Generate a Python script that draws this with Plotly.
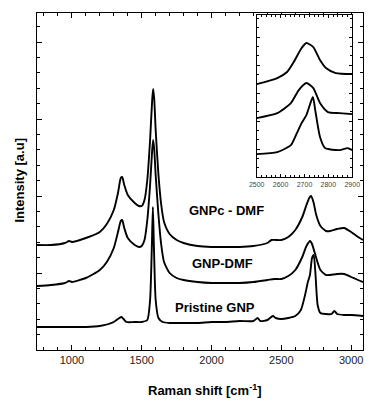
import plotly.graph_objects as go

# ---- main spectra (Raman shift, cm-1 ; intensity, a.u.) ----
gnpc_x = [750, 850, 950, 980, 1000, 1100, 1200, 1250, 1300, 1330, 1350, 1360, 1375, 1400, 1450, 1480,
          1500, 1520, 1540, 1560, 1575, 1582, 1590, 1600, 1620, 1640, 1660, 1700, 1750, 1800, 1900,
          2000, 2100, 2200, 2300, 2400, 2430, 2500, 2550, 2600, 2650, 2680, 2700, 2713, 2730, 2750,
          2780, 2820, 2850, 2900, 2950, 3000, 3050, 3085]
gnpc_y = [105, 105, 107, 109, 108, 112, 118, 126, 140, 157, 172, 173, 165, 155, 147, 144,
          144, 150, 170, 210, 250, 261, 250, 220, 175, 145, 128, 116, 110, 107, 104,
          103, 103, 103, 104, 107, 110, 110, 113, 120, 133, 145, 152, 154, 148, 135,
          124, 119, 119, 121, 122, 118, 113, 110]

gnp_x = [750, 850, 950, 980, 1000, 1100, 1200, 1250, 1300, 1330, 1350, 1360, 1375, 1400, 1450, 1480,
         1500, 1520, 1540, 1560, 1575, 1582, 1590, 1600, 1620, 1640, 1660, 1700, 1750, 1800, 1900,
         2000, 2100, 2200, 2300, 2400, 2450, 2500, 2550, 2600, 2650, 2680, 2706, 2720, 2750, 2780,
         2820, 2850, 2900, 2950, 3000, 3050, 3085]
gnp_y = [64, 65, 67, 69, 68, 72, 80, 88, 102, 118, 129, 130, 122, 112, 105, 103,
         104, 110, 130, 165, 200, 210, 200, 175, 135, 105, 88, 77, 72, 70, 68,
         67, 67, 67, 68, 70, 71, 71, 74, 80, 93, 104, 109, 106, 92, 80,
         75, 75, 76, 76, 73, 70, 68]

pristine_x = [750, 900, 1000, 1100, 1200, 1300, 1340, 1355, 1370, 1390, 1450, 1500, 1540, 1560, 1572,
              1580, 1588, 1600, 1620, 1650, 1700, 1800, 1900, 2000, 2100, 2200, 2300, 2330, 2350,
              2400, 2440, 2460, 2500, 2550, 2600, 2640, 2670, 2690, 2705, 2720, 2732, 2745, 2760,
              2780, 2820, 2860, 2880, 2900, 2950, 3000, 3085]
pristine_y = [23, 23, 23, 23, 24, 28, 32, 33, 31, 28, 28, 28, 30, 50, 100,
              143, 100, 50, 32, 28, 27, 27, 27, 28, 28, 29, 29, 32, 29,
              30, 34, 32, 31, 32, 34, 40, 55, 68, 75, 92, 95, 75, 45,
              37, 36, 36, 39, 36, 35, 35, 34]

# ---- inset (2D band) ----
in_top_x = [2500, 2586, 2627, 2655, 2688, 2708, 2737, 2765, 2790, 2831, 2900]
in_top_y = [93, 99, 105, 115, 129, 134, 130, 117, 109, 104, 103]
in_mid_x = [2500, 2586, 2643, 2676, 2708, 2737, 2765, 2798, 2847, 2900]
in_mid_y = [59, 64, 74, 87, 94, 89, 74, 65, 64, 63]
in_bot_x = [2500, 2586, 2643, 2668, 2688, 2708, 2735, 2745, 2765, 2786, 2847, 2880, 2900]
in_bot_y = [23, 25, 32, 44, 54, 62, 80, 67, 40, 29, 27, 29, 27]

main_ticks = [1000, 1500, 2000, 2500, 3000]
inset_ticks = [2500, 2600, 2700, 2800, 2900]

labels = ["GNPc - DMF", "GNP-DMF", "Pristine GNP"]
label_x = [2107, 2082, 2026]
label_y = [140, 87, 43]

fig = go.Figure()
line = dict(color="black", width=1.9, shape="spline", smoothing=0.6)
for xs, ys in [(gnpc_x, gnpc_y), (gnp_x, gnp_y), (pristine_x, pristine_y)]:
    fig.add_trace(go.Scatter(x=xs, y=ys, mode="lines", line=line, xaxis="x", yaxis="y",
                             showlegend=False, hoverinfo="skip"))
for xs, ys in [(in_top_x, in_top_y), (in_mid_x, in_mid_y), (in_bot_x, in_bot_y)]:
    fig.add_trace(go.Scatter(x=xs, y=ys, mode="lines", line=line, xaxis="x2", yaxis="y2",
                             showlegend=False, hoverinfo="skip"))

font_family = "Liberation Sans, Arial, sans-serif"
axis_common = dict(showline=True, linecolor="black", linewidth=1, mirror="ticks",
                   ticks="inside", tickcolor="black", showgrid=False, zeroline=False)

fig.update_layout(
    width=371, height=401,
    margin=dict(l=37, r=0, t=13, b=51),
    paper_bgcolor="white", plot_bgcolor="white",
    font=dict(family=font_family, color="black"),
    xaxis=dict(range=[750, 3085], tickvals=main_ticks, ticklen=5, tickwidth=1,
               tickfont=dict(size=11, color="#222"),
               minor=dict(dtick=100, tick0=0, ticklen=3, ticks="inside", tickcolor="black"),
               **axis_common),
    yaxis=dict(range=[0, 337], tick0=0, dtick=77, ticklen=5, showticklabels=False,
               minor=dict(dtick=15.4, tick0=0, ticklen=3, ticks="inside", tickcolor="black"),
               **axis_common),
    xaxis2=dict(domain=[0.674, 0.967], anchor="y2", range=[2500, 2900], tickvals=inset_ticks,
                ticklen=3, tickwidth=1, tickfont=dict(size=7, color="#444"),
                minor=dict(dtick=20, tick0=0, ticklen=2, ticks="inside", tickcolor="black"),
                **axis_common),
    yaxis2=dict(domain=[0.513, 0.994], anchor="x2", range=[0, 162], tick0=0, dtick=28,
                ticklen=3, showticklabels=False,
                minor=dict(dtick=9.33, tick0=0, ticklen=2, ticks="inside", tickcolor="black"),
                **axis_common),
)

for t, x, y in zip(labels, label_x, label_y):
    fig.add_annotation(x=x, y=y, xref="x", yref="y", text="<b>%s</b>" % t, showarrow=False,
                       xanchor="center", yanchor="middle",
                       font=dict(size=13, family=font_family, color="black"))

fig.add_annotation(x=0.515, y=-0.119, xref="paper", yref="paper",
                   xanchor="center", yanchor="middle",
                   text="<b>Raman shift [cm<sup>-1</sup>]</b>", showarrow=False,
                   font=dict(size=13, family=font_family, color="black"))
fig.add_annotation(x=-0.054, y=0.504, xref="paper", yref="paper", textangle=-90,
                   xanchor="center", yanchor="middle",
                   text="<b>Intensity [a.u]</b>", showarrow=False,
                   font=dict(size=13, family=font_family, color="black"))

# Fit the figure to the actual viewport (remove the default body margin first).
post = """
var gd = document.getElementById('{plot_id}');
document.body.style.margin = '0';
document.documentElement.style.overflow = 'hidden';
var W = document.documentElement.clientWidth || window.innerWidth;
var H = document.documentElement.clientHeight || window.innerHeight;
if (W && H && (W !== 371 || H !== 401)) {
  var sx = W / 371, sy = H / 401;
  Plotly.relayout(gd, {width: W, height: H,
    'margin.l': 37 * sx, 'margin.r': 0, 'margin.t': 13 * sy, 'margin.b': 51 * sy});
}
"""

fig.write_html("out.html", config={"displayModeBar": False}, post_script=post)
